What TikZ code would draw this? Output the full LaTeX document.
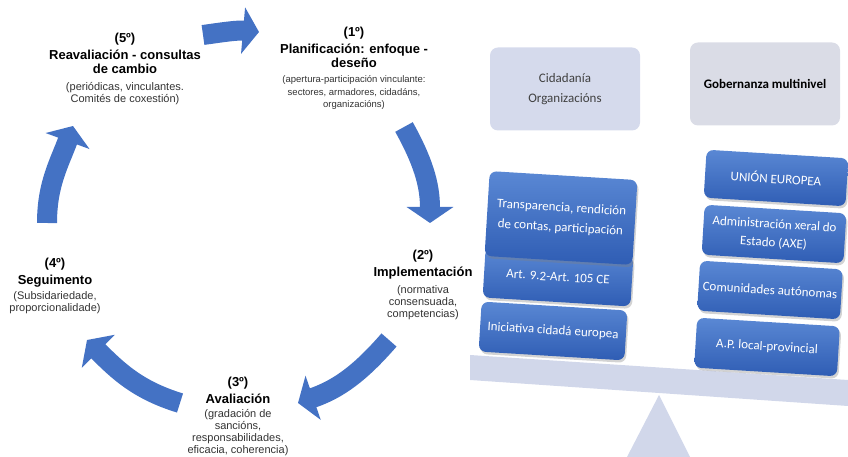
\documentclass[tikz,border=0pt]{standalone}
\usepackage{fontspec}
\setmainfont{Liberation Sans}
\newfontfamily\calibrifont{Carlito}
\usepackage{tikz}
\usetikzlibrary{positioning,arrows.meta,shadows}

\definecolor{cycleblue}{HTML}{4472C4}
\definecolor{boxtop}{HTML}{5A88D4}
\definecolor{boxbottom}{HTML}{2F5DB4}
\definecolor{lavender}{HTML}{D5DAEC}
\definecolor{greylav}{HTML}{DADCE6}
\definecolor{scalefill}{HTML}{D1D7EA}

\begin{document}
\begin{tikzpicture}[
        x=1pt, y=1pt,
        node distance=4pt,
        stage_title/.style={align=center, inner sep=1pt, font=\fontsize{13}{14}\selectfont\bfseries},
        stage_desc/.style={align=center, inner sep=1pt, text=black!80, font=\fontsize{11}{12}\selectfont},
        cycle_arrow/.style={draw=cycleblue, line width=20pt, -{Triangle[width=46pt,length=16pt]}},
        blue_box/.style={rectangle, rounded corners=7pt, minimum width=146pt, minimum height=50pt,
            rotate=-3.5, align=center, text=white, top color=boxtop, bottom color=boxbottom,
            drop shadow={shadow xshift=1.5pt, shadow yshift=-2.5pt, opacity=0.35},
            font=\calibrifont\fontsize{13}{18.5}\selectfont},
        light_box/.style={rectangle, rounded corners=8pt, minimum width=150pt, minimum height=83pt,
            align=center, font=\calibrifont\fontsize{13}{20}\selectfont}
    ]
    \useasboundingbox (0,0) rectangle (848,457);

    % Stages of the cycle
    \node[stage_title] (s1) at (354,410) {(1º)\\[3pt]Planificación: enfoque -\\deseño};
    \node[stage_desc, below=6pt of s1, font=\fontsize{9.5}{12.5}\selectfont] (s1d)
        {(apertura-participación vinculante:\\sectores, armadores, cidadáns,\\organizacións)};

    \node[stage_title] (s2) at (423,192) {(2º)\\[3pt]Implementación};
    \node[stage_desc, below=of s2] (s2d) {(normativa\\consensuada,\\competencias)};

    \node[stage_title] (s3) at (238,67) {(3º)\\[3pt]Avaliación};
    \node[stage_desc, below=of s3] (s3d) {(gradación de\\sancións,\\responsabilidades,\\eficacia, coherencia)};

    \node[stage_title] (s4) at (55,184) {(4º)\\[3pt]Seguimento};
    \node[stage_desc, below=2pt of s4] (s4d) {(Subsidariedade,\\proporcionalidade)};

    \node[stage_title] (s5) at (125,404) {(5º)\\[3pt]Reavaliación - consultas\\de cambio};
    \node[stage_desc, below=7pt of s5] (s5d) {(periódicas, vinculantes.\\Comités de coxestión)};

    % Arrows between stages
    \coordinate (a1s) at (203,422);
    \coordinate (a1e) at (259,425);
    \coordinate (a2s) at (404,330);
    \coordinate (a2e) at (430,234);
    \coordinate (a3s) at (389,117);
    \coordinate (a3e) at (298,54);
    \coordinate (a4s) at (180,54);
    \coordinate (a4e) at (87,117);
    \coordinate (a5s) at (47,234);
    \coordinate (a5e) at (73,331);

    \draw[cycle_arrow] (a1s) to[out=8, in=175] (a1e);
    \draw[cycle_arrow] (a2s) to[out=-61, in=90] (a2e);
    \draw[cycle_arrow] (a3s) to[out=229, in=19] (a3e);
    \draw[cycle_arrow] (a4s) to[out=163, in=-45] (a4e);
    \draw[cycle_arrow] (a5s) to[out=90, in=250] (a5e);

    % Balance
    \fill[scalefill] (659,62) -- (690,0) -- (627,0) -- cycle;
    \fill[scalefill] (470,102) -- (848,77) -- (848,51) -- (470,77) -- cycle;

    % Headers
    \node[light_box, fill=lavender, text=black!75] (cid) at (565,368) {Cidadanía\\Organizacións};
    \node[light_box, fill=greylav, font=\calibrifont\fontsize{13}{15}\selectfont\bfseries] (gob) at (765,373) {Gobernanza multinivel};

    % Left stack
    \node[blue_box, minimum width=148pt] (art) at (558,180) {Art. 9.2-Art. 105 CE};
    \node[blue_box, minimum width=148pt, minimum height=85pt, font=\calibrifont\fontsize{13}{20}\selectfont] (transp) at (561,239) {Transparencia, rendición\\de contas, participación};
    \node[blue_box] (ini) at (553,126) {Iniciativa cidadá europea};

    % Right stack
    \node[blue_box, minimum width=142pt, minimum height=48pt] (ue) at (776,279) {UNIÓN EUROPEA};
    \node[blue_box, minimum width=142pt] (axe) at (774,223) {Administración xeral do\\Estado (AXE)};
    \node[blue_box, minimum width=143pt] (ccaa) at (770,167) {Comunidades autónomas};
    \node[blue_box, minimum width=143pt] (local) at (767,110) {A.P. local-provincial};

\end{tikzpicture}
\end{document}
